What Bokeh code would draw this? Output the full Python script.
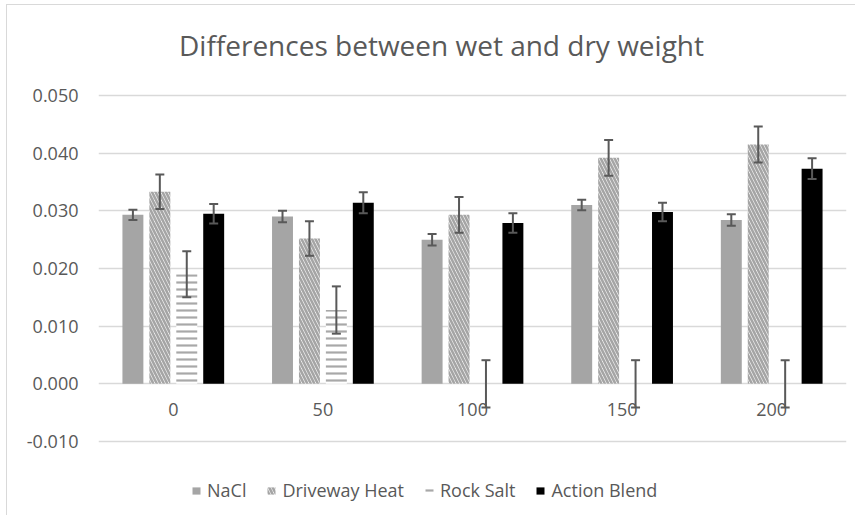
from bokeh.plotting import figure
from bokeh.models import (ColumnDataSource, FactorRange, Range1d, FixedTicker,
                          NumeralTickFormatter, Legend, LegendItem, Label)
from bokeh.transform import dodge
from bokeh.core.properties import value
from bokeh.embed import file_html
from bokeh.resources import INLINE

# ---- data ----
title_text = "Differences between wet and dry weight"
concentrations = ["0", "50", "100", "150", "200"]
series_names = ["NaCl", "Driveway Heat", "Rock Salt", "Action Blend"]
nacl = [0.0293, 0.0290, 0.0250, 0.0310, 0.0284]
nacl_err = [0.0009, 0.0010, 0.0010, 0.0009, 0.0010]
driveway = [0.0333, 0.0252, 0.0293, 0.0392, 0.0415]
driveway_err = [0.0030, 0.0030, 0.0031, 0.0031, 0.0031]
rock = [0.0190, 0.0128, 0.0, 0.0, 0.0]
rock_err = [0.0040, 0.0041, 0.0041, 0.0041, 0.0041]
action = [0.0295, 0.0314, 0.0279, 0.0298, 0.0373]
action_err = [0.0017, 0.0018, 0.0017, 0.0016, 0.0018]
y_ticks = [-0.01, 0.0, 0.01, 0.02, 0.03, 0.04, 0.05]

FONT = "Open Sans"
TXT = "#595959"

data = dict(cat=concentrations, zero=[0.0] * len(concentrations))
for key, vals, errs in [("nacl", nacl, nacl_err), ("dw", driveway, driveway_err),
                        ("rs", rock, rock_err), ("ab", action, action_err)]:
    data[key] = vals
    data[key + "_lo"] = [v - e for v, e in zip(vals, errs)]
    data[key + "_hi"] = [v + e for v, e in zip(vals, errs)]
src = ColumnDataSource(data)

# the frame covers the whole chart height (title and legend sit inside it);
# gridlines and tick labels are limited to the -0.010 .. 0.050 ticks
p = figure(width=849, height=511, x_range=FactorRange(*concentrations, range_padding=0, factor_padding=0),
           y_range=Range1d(-0.0230, 0.0656), output_backend="svg", toolbar_location=None,
           min_border_left=91, min_border_right=10, min_border_top=0, min_border_bottom=0)

p.outline_line_color = None
p.xgrid.grid_line_color = None
p.ygrid.grid_line_color = "#d9d9d9"
p.ygrid.grid_line_width = 1.6
p.ygrid.ticker = FixedTicker(ticks=y_ticks)
p.xaxis.visible = False

ya = p.yaxis[0]
ya.ticker = FixedTicker(ticks=y_ticks)
ya.formatter = NumeralTickFormatter(format="0.000")
ya.axis_line_color = None
ya.major_tick_line_color = None
ya.minor_tick_line_color = None
ya.major_tick_out = 0
ya.major_label_standoff = 20
ya.major_label_text_font = FONT
ya.major_label_text_font_size = "18px"
ya.major_label_text_color = TXT

p.add_layout(Label(x=343, x_units="screen", y=0.0587, y_units="data", text=title_text,
                   text_font=FONT, text_font_size="28px", text_color=TXT,
                   text_align="center", text_baseline="middle"))

# category labels sitting just below the zero line
p.text(x="cat", y="zero", text="cat", source=src, text_font=value(FONT), text_font_size="18px",
       text_color=TXT, text_align="center", text_baseline="middle", y_offset=26)

offsets = [-0.27, -0.09, 0.09, 0.27]
W = 0.14
r_nacl = p.vbar(x=dodge("cat", offsets[0], range=p.x_range), top="nacl", width=W, source=src,
                fill_color="#a5a5a5", line_color=None)
r_dw = p.vbar(x=dodge("cat", offsets[1], range=p.x_range), top="dw", width=W, source=src,
              fill_color="white", line_color=None, hatch_pattern="\\", hatch_color="#a5a5a5",
              hatch_scale=7, hatch_weight=2.6)
r_rs = p.vbar(x=dodge("cat", offsets[2], range=p.x_range), top="rs", width=W, source=src,
              fill_color="white", line_color=None, hatch_pattern="-", hatch_color="#a8a8a8",
              hatch_scale=7, hatch_weight=2.2)
r_ab = p.vbar(x=dodge("cat", offsets[3], range=p.x_range), top="ab", width=W, source=src,
              fill_color="black", line_color=None)

CAP = 0.03
for key, off in zip(["nacl", "dw", "rs", "ab"], offsets):
    p.segment(x0=dodge("cat", off, range=p.x_range), x1=dodge("cat", off, range=p.x_range),
              y0=key + "_lo", y1=key + "_hi", source=src, line_color=TXT, line_width=2)
    for end in ("_lo", "_hi"):
        p.segment(x0=dodge("cat", off - CAP, range=p.x_range), x1=dodge("cat", off + CAP, range=p.x_range),
                  y0=key + end, y1=key + end, source=src, line_color=TXT, line_width=2)

legend = Legend(items=[LegendItem(label=n, renderers=[r]) for n, r in
                       zip(series_names, [r_nacl, r_dw, r_rs, r_ab])],
                orientation="horizontal", location=(93, 14), border_line_color=None,
                background_fill_alpha=0, padding=0, margin=0, spacing=20,
                glyph_width=10, glyph_height=9, label_standoff=6,
                label_text_font=FONT, label_text_font_size="18px", label_text_color=TXT)
p.add_layout(legend, "center")

p.styles = {"margin-left": "6px", "margin-top": "4px",
            "border-left": "1px solid #d9d9d9", "border-top": "1px solid #d9d9d9"}

open("out.html", "w").write(file_html(p, INLINE))
